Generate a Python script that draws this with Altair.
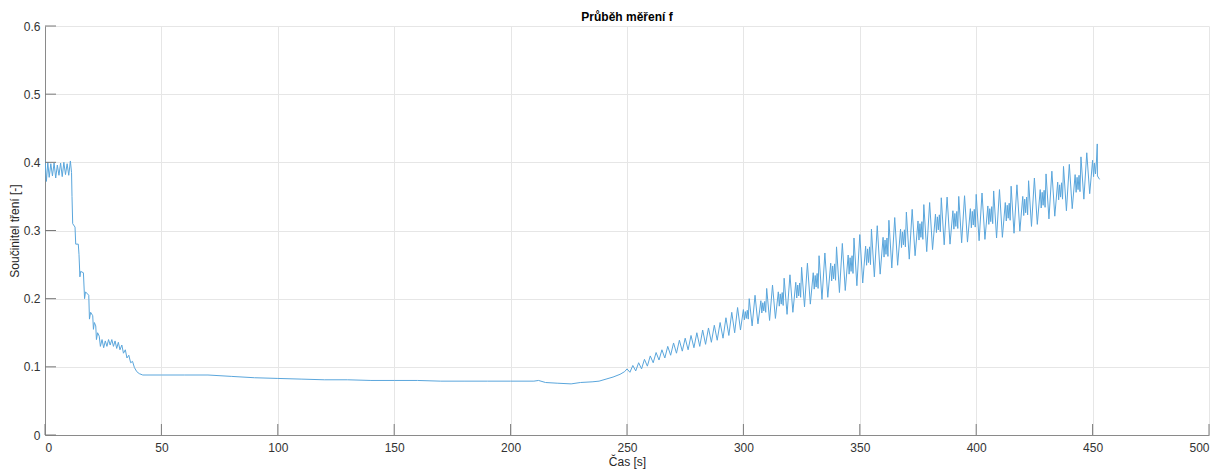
import altair as alt
import pandas as pd

# Start-up phase: friction oscillating just under 0.4
start_t = [0, 0.6, 1.2, 1.8, 2.5, 3.2, 3.9, 4.6, 5.3, 6.0, 6.7, 7.4, 8.1, 8.8, 9.5, 10.2, 10.9, 11.4]
start_f = [0.403, 0.372, 0.400, 0.378, 0.398, 0.380, 0.399, 0.377, 0.396, 0.381, 0.399, 0.379,
           0.400, 0.382, 0.398, 0.381, 0.402, 0.385]

# Run-in: stepwise drop towards the steady level
drop_t = [11.6, 11.9, 12.9, 13.2, 14.3, 14.6, 15.0, 15.3, 16.5, 17.0, 17.4, 18.8, 19.1, 19.6,
          20.5, 20.8, 21.2, 21.8, 22.1, 22.6, 23.3, 23.8, 24.5, 25.2, 25.9, 26.6, 27.3, 28.0,
          28.7, 29.4, 30.1, 30.8, 31.5, 32.2, 33.0, 33.7, 34.5, 35.2, 36.0, 36.8, 37.6, 38.4,
          39.4, 40.5]
drop_f = [0.350, 0.310, 0.305, 0.280, 0.280, 0.265, 0.232, 0.240, 0.238, 0.200, 0.210, 0.205,
          0.170, 0.180, 0.175, 0.155, 0.165, 0.160, 0.140, 0.150, 0.145, 0.130, 0.140, 0.128,
          0.138, 0.130, 0.140, 0.132, 0.140, 0.130, 0.138, 0.127, 0.136, 0.125, 0.132, 0.120,
          0.125, 0.113, 0.117, 0.106, 0.108, 0.099, 0.093, 0.090]

# Steady sliding
steady_t = [42, 50, 60, 70, 80, 90, 100, 110, 120, 130, 140, 150, 160, 170, 180, 190, 200,
            210, 212, 215, 220, 226, 230, 235, 238, 241, 244, 247, 249]
steady_f = [0.088, 0.088, 0.088, 0.088, 0.086, 0.084, 0.083, 0.082, 0.081, 0.081, 0.080, 0.080,
            0.080, 0.079, 0.079, 0.079, 0.079, 0.079, 0.080, 0.077, 0.076, 0.075, 0.077, 0.078,
            0.079, 0.082, 0.085, 0.089, 0.093]

# Stick-slip phase: one peak/trough pair per cycle, a cycle every 2.5 s from 250 s
cycle_start = 250
cycle_step = 2.5
peak_f = [0.097, 0.102, 0.106, 0.111, 0.116, 0.121, 0.125, 0.130, 0.135, 0.139,
          0.142, 0.146, 0.150, 0.154, 0.157, 0.161, 0.165, 0.172, 0.180, 0.187,
          0.184, 0.200, 0.205, 0.197, 0.215, 0.220, 0.210, 0.230, 0.235, 0.224,
          0.246, 0.252, 0.238, 0.263, 0.267, 0.252, 0.276, 0.281, 0.264, 0.289,
          0.294, 0.277, 0.302, 0.307, 0.290, 0.315, 0.319, 0.302, 0.327, 0.331,
          0.314, 0.338, 0.341, 0.324, 0.348, 0.349, 0.329, 0.350, 0.351, 0.332,
          0.353, 0.355, 0.336, 0.358, 0.360, 0.341, 0.365, 0.367, 0.350, 0.373,
          0.377, 0.360, 0.383, 0.387, 0.371, 0.394, 0.397, 0.382, 0.408, 0.414,
          0.403]
trough_f = [0.092, 0.094, 0.097, 0.101, 0.106, 0.110, 0.113, 0.117, 0.120, 0.123,
            0.125, 0.128, 0.130, 0.133, 0.136, 0.139, 0.142, 0.146, 0.150, 0.154,
            0.169, 0.160, 0.163, 0.179, 0.168, 0.171, 0.189, 0.177, 0.180, 0.201,
            0.188, 0.192, 0.214, 0.199, 0.202, 0.226, 0.209, 0.212, 0.236, 0.219,
            0.223, 0.249, 0.232, 0.236, 0.261, 0.245, 0.249, 0.275, 0.258, 0.263,
            0.286, 0.269, 0.272, 0.297, 0.279, 0.280, 0.302, 0.282, 0.283, 0.304,
            0.285, 0.287, 0.309, 0.289, 0.290, 0.314, 0.296, 0.299, 0.322, 0.306,
            0.309, 0.333, 0.317, 0.321, 0.345, 0.329, 0.332, 0.356, 0.346, 0.354,
            0.379]

# Beat cycles: fast, narrower oscillation following the first peak/trough of the cycle
lens_cycles = [20, 23, 26, 29, 32, 35, 38, 41, 44, 47, 50, 53, 56, 59, 62, 65, 68, 71, 74, 77, 80]
lens_extra = [
    [0.181, 0.171, 0.183, 0.170], [0.194, 0.182, 0.196, 0.180], [0.207, 0.192, 0.209, 0.190],
    [0.220, 0.204, 0.223, 0.202], [0.234, 0.217, 0.237, 0.215], [0.248, 0.229, 0.251, 0.227],
    [0.260, 0.240, 0.263, 0.237], [0.273, 0.253, 0.276, 0.250], [0.286, 0.265, 0.289, 0.262],
    [0.298, 0.279, 0.301, 0.276], [0.310, 0.290, 0.313, 0.287], [0.320, 0.301, 0.323, 0.298],
    [0.325, 0.306, 0.328, 0.303], [0.328, 0.308, 0.331, 0.305], [0.332, 0.313, 0.335, 0.310],
    [0.337, 0.318, 0.340, 0.315], [0.346, 0.326, 0.349, 0.323], [0.356, 0.337, 0.359, 0.334],
    [0.367, 0.349, 0.370, 0.346], [0.378, 0.360, 0.381, 0.357], [0.399, 0.383, 0.402, 0.380],
]
end_t = [452, 453]
end_f = [0.427, 0.375]

x_ticks = [0, 50, 100, 150, 200, 250, 300, 350, 400, 450, 500]
y_ticks = [0, 0.1, 0.2, 0.3, 0.4, 0.5, 0.6]

# Assemble the time series
osc_t, osc_f = [], []
extra = dict(zip(lens_cycles, lens_extra))
for k, (p, q) in enumerate(zip(peak_f, trough_f)):
    t0 = cycle_start + k * cycle_step
    if k in extra:
        sub = cycle_step / 6
        osc_t += [t0 + i * sub for i in range(6)]
        osc_f += [p, q] + extra[k]
    else:
        osc_t += [t0, t0 + cycle_step / 2]
        osc_f += [p, q]

df = pd.DataFrame({
    "t": start_t + drop_t + steady_t + osc_t + end_t,
    "f": start_f + drop_f + steady_f + osc_f + end_f,
})

W, H = 1164, 409
FONT = "Liberation Sans"
xscale = alt.Scale(domain=[0, 500], nice=False, zero=False)
yscale = alt.Scale(domain=[0, 0.6], nice=False)

line = alt.Chart(df).mark_line(color="#5aa6dc", strokeWidth=1, clip=True).encode(
    x=alt.X("t:Q", scale=xscale, title="Čas [s]",
            axis=alt.Axis(values=x_ticks, format="d")),
    y=alt.Y("f:Q", scale=yscale, title="Součinitel tření [-]",
            axis=alt.Axis(values=y_ticks,
                          labelExpr="datum.value == 0 ? '0' : format(datum.value, '.1f')")),
)

# Inward tick marks along both axes
xt = alt.Chart(pd.DataFrame({"t": x_ticks})).mark_rule(color="#7a7a7a", strokeWidth=1).encode(
    x=alt.X("t:Q", scale=xscale), y=alt.value(H), y2=alt.value(H - 11)
)
yt = alt.Chart(pd.DataFrame({"f": y_ticks})).mark_rule(color="#7a7a7a", strokeWidth=1).encode(
    y=alt.Y("f:Q", scale=yscale), x=alt.value(0), x2=alt.value(11)
)

chart = alt.layer(line, xt, yt).properties(
    width=W, height=H,
    title=alt.TitleParams("Průběh měření f", fontSize=12, fontWeight="bold", font=FONT,
                          color="#000000", offset=-4, anchor="middle"),
    autosize=alt.AutoSizeParams(type="none"),
    padding={"left": 45, "top": 26, "right": 23, "bottom": 36},
).configure_view(stroke=None).configure_axis(
    labelFont=FONT, titleFont=FONT, labelFontSize=12, titleFontSize=12,
    labelColor="#333333", titleColor="#262626", titleFontWeight="normal",
    domainColor="#8a8a8a", gridColor="#e6e6e6", gridWidth=1, ticks=False,
).configure_axisX(labelPadding=7, titlePadding=3).configure_axisY(labelPadding=5, titlePadding=2)

chart.save("out.html", embed_options={"renderer": "svg", "actions": False})
